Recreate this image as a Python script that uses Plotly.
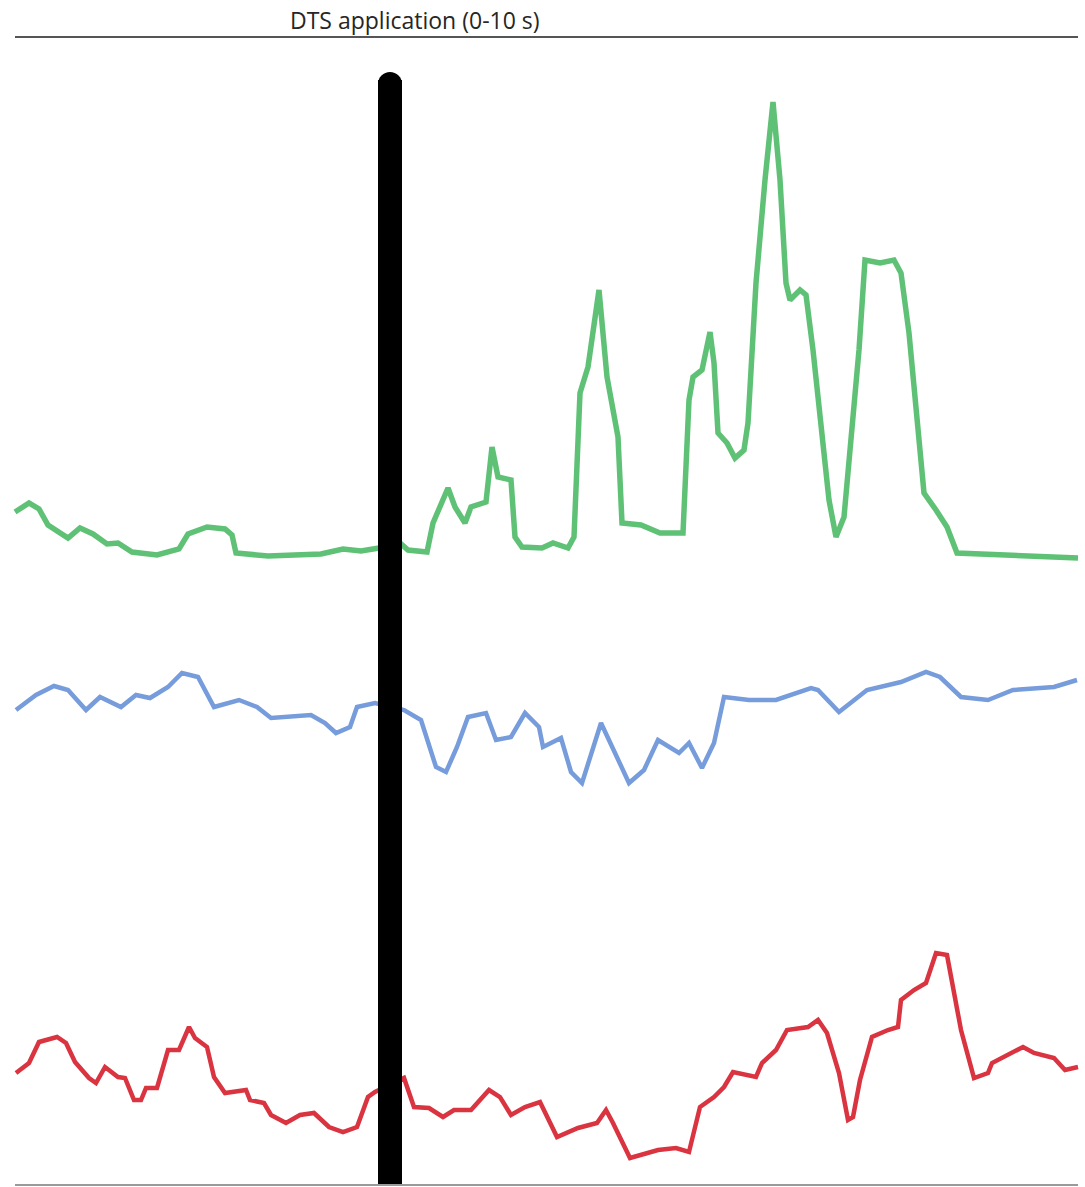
import plotly.graph_objects as go

H = 1187
# Read-off samples (time position, signal level measured from the top of the picture)
green_t = [15, 29, 39, 48, 68, 80, 93, 107, 118, 132, 157, 179, 188, 207, 225, 232, 236, 268, 321, 343, 361, 379,
           400, 408, 427, 433, 448, 455, 465, 471, 486, 492, 498, 511, 515, 522, 542, 553, 568, 574, 580, 588, 599,
           607, 618, 622, 641, 660, 683, 689, 693, 702, 710, 714, 718, 727, 735, 744, 748, 756, 765, 773, 780, 786,
           790, 800, 806, 813, 829, 836, 844, 859, 865, 880, 894, 901, 909, 924, 936, 947, 957, 1000, 1078]
green_v = [512, 503, 509, 525, 538, 528, 534, 544, 543, 552, 555, 549, 534, 527, 529, 535, 553, 556, 554, 549, 551,
           548, 543, 550, 552, 523, 488, 507, 523, 507, 502, 447, 477, 480, 537, 547, 548, 543, 548, 537, 393, 367,
           290, 377, 437, 523, 525, 533, 533, 400, 377, 370, 332, 363, 433, 443, 458, 450, 423, 283, 180, 102, 180,
           283, 300, 290, 295, 350, 500, 537, 517, 350, 260, 263, 260, 273, 333, 493, 510, 527, 553, 555, 558]

blue_t = [16, 36, 54, 68, 86, 100, 121, 136, 150, 168, 182, 198, 214, 239, 257, 271, 311, 325, 336, 350, 357, 375,
          404, 421, 436, 446, 457, 468, 486, 496, 511, 525, 539, 543, 561, 571, 582, 601, 629, 644, 658, 679, 689,
          702, 714, 724, 749, 776, 811, 818, 839, 867, 901, 926, 940, 961, 988, 1013, 1054, 1077]
blue_v = [710, 695, 686, 690, 710, 697, 707, 695, 698, 687, 673, 677, 707, 700, 707, 718, 715, 723, 733, 727, 707,
          703, 710, 720, 767, 772, 747, 717, 713, 740, 737, 713, 727, 747, 738, 772, 783, 723, 783, 770, 740, 753,
          743, 768, 743, 697, 700, 700, 688, 690, 712, 690, 682, 672, 677, 697, 700, 690, 687, 680]

red_t = [16, 29, 39, 57, 66, 75, 89, 96, 105, 118, 125, 134, 141, 146, 157, 168, 179, 189, 195, 207, 214, 225, 246,
         250, 264, 271, 286, 300, 314, 329, 343, 357, 368, 375, 404, 414, 429, 443, 454, 471, 489, 500, 511, 525,
         540, 557, 578, 597, 606, 613, 630, 658, 676, 689, 700, 714, 724, 733, 756, 762, 776, 787, 808, 818, 827,
         839, 848, 853, 860, 872, 888, 898, 901, 914, 926, 936, 947, 961, 974, 988, 992, 1023, 1034, 1054, 1065, 1078]
red_v = [1073, 1063, 1042, 1037, 1043, 1062, 1078, 1083, 1067, 1077, 1078, 1100, 1100, 1088, 1088, 1050, 1050, 1027,
         1038, 1047, 1077, 1093, 1090, 1100, 1103, 1115, 1123, 1115, 1113, 1127, 1132, 1127, 1097, 1092, 1078, 1107,
         1108, 1117, 1110, 1110, 1090, 1097, 1115, 1107, 1102, 1137, 1128, 1123, 1110, 1123, 1158, 1150, 1148, 1152,
         1107, 1097, 1087, 1072, 1077, 1063, 1050, 1030, 1027, 1020, 1033, 1073, 1120, 1117, 1080, 1037, 1030, 1027,
         1000, 990, 983, 953, 955, 1030, 1078, 1073, 1063, 1047, 1053, 1058, 1070, 1067]

title_text = "DTS application (0-10 s)"
stim_t = 390

def lvl(v):
    return [H - y for y in v]

fig = go.Figure()
fig.add_trace(go.Scatter(x=green_t, y=lvl(green_v), mode="lines",
                         line=dict(color="#5fc176", width=5.5), hoverinfo="skip"))
fig.add_trace(go.Scatter(x=blue_t, y=lvl(blue_v), mode="lines",
                         line=dict(color="#769cdb", width=4.5), hoverinfo="skip"))
fig.add_trace(go.Scatter(x=red_t, y=lvl(red_v), mode="lines",
                         line=dict(color="#d93440", width=4.5), hoverinfo="skip"))

# stimulus bar with rounded top
fig.add_shape(type="line", x0=stim_t, x1=stim_t, y0=H - 1185, y1=H - 80,
              line=dict(color="black", width=24), layer="above")
fig.add_shape(type="circle", x0=stim_t - 12, x1=stim_t + 12, y0=H - 96, y1=H - 72,
              fillcolor="black", line=dict(width=0), layer="above")
# top and bottom rules
fig.add_shape(type="line", x0=15, x1=1078, y0=H - 37, y1=H - 37, line=dict(color="#555555", width=2))
fig.add_shape(type="line", x0=15, x1=1078, y0=H - 1185, y1=H - 1185, line=dict(color="#9a9a9a", width=2))

fig.add_annotation(x=415, y=H - 20, text=title_text, showarrow=False,
                   font=dict(family="Open Sans", size=23, color="#262626"), xanchor="center", yanchor="middle")

fig.update_layout(width=1085, height=1187, margin=dict(l=0, r=0, t=0, b=0),
                  paper_bgcolor="white", plot_bgcolor="white", showlegend=False,
                  xaxis=dict(range=[0, 1085], visible=False, fixedrange=True),
                  yaxis=dict(range=[0, H], visible=False, fixedrange=True))

fig.write_html("out.html", config={"displayModeBar": False},
               post_script="document.body.style.margin='0';document.body.style.overflow='hidden';")
